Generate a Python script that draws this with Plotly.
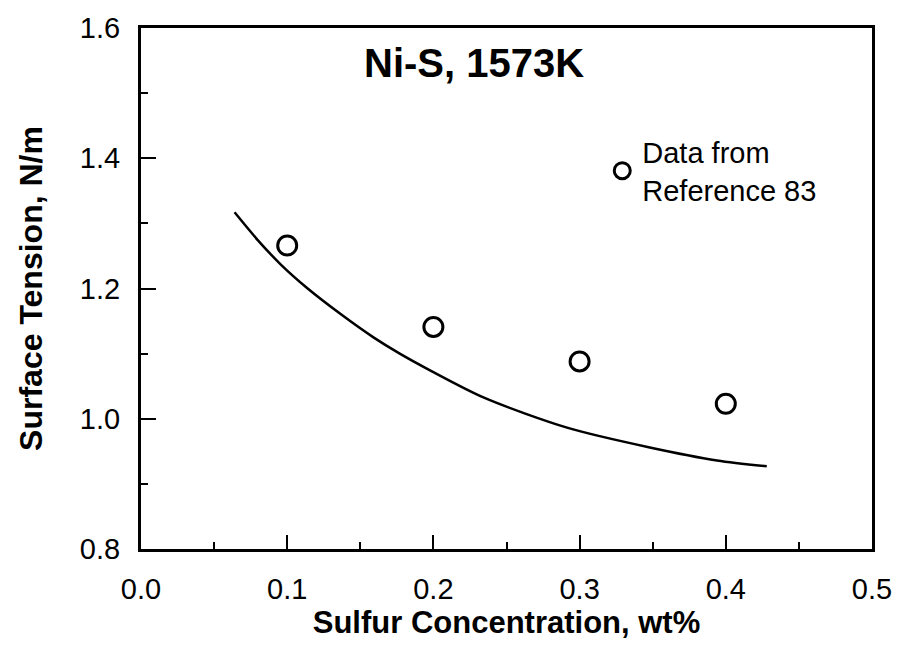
import plotly.graph_objects as go

# Data
data_x = [0.1, 0.2, 0.3, 0.4]
data_y = [1.266, 1.141, 1.088, 1.023]

curve_x = [0.064, 0.080, 0.096, 0.114, 0.137, 0.159, 0.177, 0.198, 0.235, 0.292, 0.348, 0.394, 0.428]
curve_y = [1.317, 1.274, 1.236, 1.200, 1.160, 1.125, 1.100, 1.074, 1.032, 0.986, 0.956, 0.936, 0.927]

x_ticks = [0.0, 0.1, 0.2, 0.3, 0.4, 0.5]
x_tick_labels = ["0.0", "0.1", "0.2", "0.3", "0.4", "0.5"]
y_ticks = [0.8, 1.0, 1.2, 1.4, 1.6]
y_tick_labels = ["0.8", "1.0", "1.2", "1.4", "1.6"]

title_text = "Ni-S, 1573K"
legend_text = "Data from<br>Reference 83"
x_title = "Sulfur Concentration, wt%"
y_title = "Surface Tension, N/m"

FONT = "Liberation Sans, Arial, Helvetica, sans-serif"

fig = go.Figure()
fig.add_trace(go.Scatter(
    x=curve_x, y=curve_y, mode="lines",
    line=dict(color="black", width=2.5, shape="spline", smoothing=0.8),
    showlegend=False, hoverinfo="skip",
))
fig.add_trace(go.Scatter(
    x=data_x, y=data_y, mode="markers", name=legend_text,
    marker=dict(symbol="circle-open", size=19, color="black",
                line=dict(color="black", width=3)),
    showlegend=True,
))

axis_common = dict(
    showgrid=False, zeroline=False, showline=True, linecolor="black",
    linewidth=3, mirror=True, ticks="inside", tickcolor="black",
    tickwidth=2, tickfont=dict(family=FONT, size=29, color="black"),
)

fig.update_xaxes(
    range=[0.0, 0.5], tickvals=x_ticks, ticktext=x_tick_labels,
    ticklen=14, ticklabelstandoff=12,
    minor=dict(dtick=0.05, ticks="inside", ticklen=7, tickwidth=2, tickcolor="black"),
    title=dict(text="<b>" + x_title + "</b>", standoff=8,
               font=dict(family=FONT, size=31, color="black")),
    **axis_common,
)
fig.update_yaxes(
    range=[0.8, 1.6], tickvals=y_ticks, ticktext=y_tick_labels,
    ticklen=15, ticklabelstandoff=12,
    minor=dict(dtick=0.1, ticks="inside", ticklen=7, tickwidth=2, tickcolor="black"),
    title=dict(text="<b>" + y_title + "</b>", standoff=28,
               font=dict(family=FONT, size=32, color="black")),
    **axis_common,
)

fig.add_annotation(
    x=0.228, y=1.547, xref="x", yref="y", text="<b>" + title_text + "</b>",
    showarrow=False, font=dict(family=FONT, size=40, color="black"),
    xanchor="center", yanchor="middle",
)

fig.update_layout(
    width=904, height=646,
    margin=dict(l=141, r=27, t=23, b=95),
    paper_bgcolor="white", plot_bgcolor="white",
    legend=dict(x=0.631, y=0.811, xanchor="left", yanchor="top",
                bgcolor="rgba(0,0,0,0)", valign="middle",
                font=dict(family=FONT, size=29, color="black"),
                itemsizing="trace"),
)

fig.write_html("out.html")
